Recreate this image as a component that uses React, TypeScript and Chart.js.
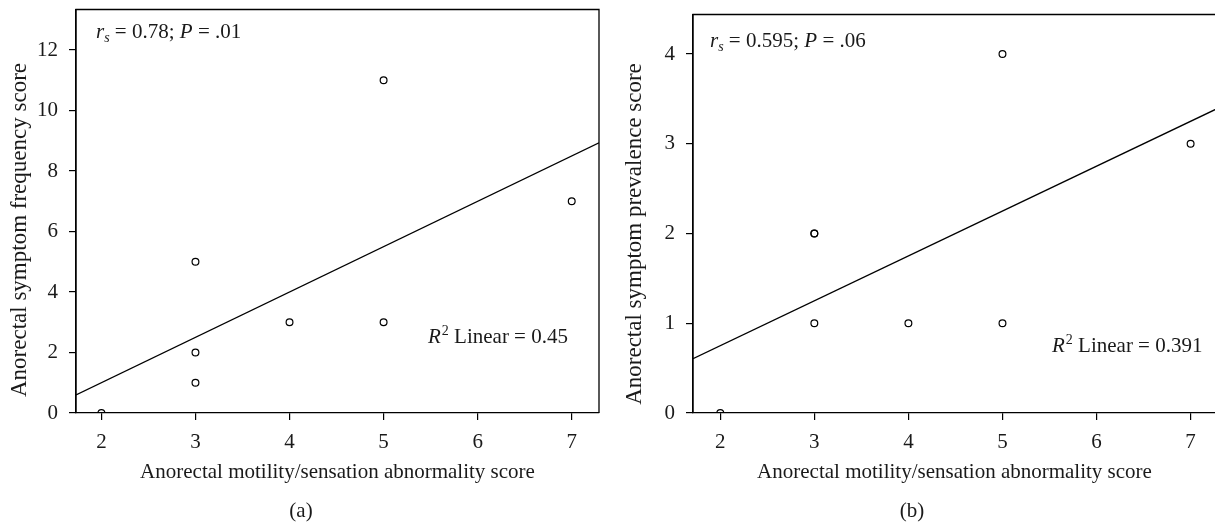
import React, { useEffect, useRef } from "react";
import { Chart, registerables } from "chart.js";

Chart.register(...registerables);

// ---------- data ----------
const abnormalityScore = [2, 3, 3, 3, 4, 5, 5, 7];
const frequencyScore = [0, 1, 2, 5, 3, 3, 11, 7];
const prevalenceScore = [0, 1, 2, 2, 1, 1, 4, 3];

const xTickValues = [2, 3, 4, 5, 6, 7];
const yTicksFrequency = [0, 2, 4, 6, 8, 10, 12];
const yTicksPrevalence = [0, 1, 2, 3, 4];

const xAxisTitle = "Anorectal motility/sensation abnormality score";
const yAxisTitles = ["Anorectal symptom frequency score", "Anorectal symptom prevalence score"];
const panelLabels = ["(a)", "(b)"];
const spearmanR = ["0.78", "0.595"];
const pValues = [".01", ".06"];
const r2Linear = ["0.45", "0.391"];

// ---------- styling ----------
const FAM = '"Liberation Serif", "Times New Roman", serif';
const INK = "#1a1a1a";
const FS = 21;
const FS_YTITLE = 23;

function linearFit(xs: number[], ys: number[]) {
  const n = xs.length;
  const mx = xs.reduce((a, b) => a + b, 0) / n;
  const my = ys.reduce((a, b) => a + b, 0) / n;
  let sxy = 0, sxx = 0;
  for (let i = 0; i < n; i++) {
    sxy += (xs[i] - mx) * (ys[i] - my);
    sxx += (xs[i] - mx) * (xs[i] - mx);
  }
  const b = sxy / sxx;
  const a = my - b * mx;
  return (x: number) => a + b * x;
}

type PanelOpts = {
  ys: number[];
  yTicks: number[];
  yMax: number;
  xMin: number;
  xMax: number;
  idx: number;
  width: number;
  padTop: number;
  padRight: number;
  yAxisWidth: number;
  yTitleX: number;
  yTitleY: number;
  labelX: number;
  rsPos: [number, number];
  r2Pos: [number, number];
};

const decorPlugin = {
  id: "decor",
  afterDraw(chart: any, _args: any, o: any) {
    const ctx = chart.ctx;
    const ca = chart.chartArea;
    ctx.save();
    // frame
    ctx.strokeStyle = "#000";
    ctx.lineWidth = 1.3;
    ctx.beginPath();
    ctx.moveTo(ca.left, ca.bottom);
    ctx.lineTo(ca.left, ca.top);
    ctx.lineTo(ca.right, ca.top);
    ctx.lineTo(ca.right, ca.bottom);
    ctx.stroke();

    ctx.fillStyle = INK;
    ctx.textBaseline = "alphabetic";
    ctx.textAlign = "left";
    // r_s annotation
    {
      let [x, y] = o.rsPos;
      ctx.font = `italic ${FS}px ${FAM}`;
      ctx.fillText("r", x, y);
      x += ctx.measureText("r").width;
      ctx.font = `italic 14px ${FAM}`;
      ctx.fillText("s", x, y + 4);
      x += ctx.measureText("s").width;
      ctx.font = `${FS}px ${FAM}`;
      const t1 = " = " + o.rs + "; ";
      ctx.fillText(t1, x, y);
      x += ctx.measureText(t1).width;
      ctx.font = `italic ${FS}px ${FAM}`;
      ctx.fillText("P", x, y);
      x += ctx.measureText("P").width;
      ctx.font = `${FS}px ${FAM}`;
      ctx.fillText(" = " + o.p, x, y);
    }
    // R2 annotation
    {
      let [x, y] = o.r2Pos;
      ctx.font = `italic ${FS}px ${FAM}`;
      ctx.fillText("R", x, y);
      x += ctx.measureText("R").width + 1;
      ctx.font = `14px ${FAM}`;
      ctx.fillText("2", x, y - 8);
      x += ctx.measureText("2").width;
      ctx.font = `${FS}px ${FAM}`;
      ctx.fillText(" Linear = " + o.r2, x, y);
    }
    // y title
    ctx.save();
    ctx.translate(o.yTitleX, o.yTitleY);
    ctx.rotate(-Math.PI / 2);
    ctx.textAlign = "center";
    ctx.textBaseline = "middle";
    ctx.font = `${FS_YTITLE}px ${FAM}`;
    ctx.fillText(o.yTitle, 0, 0);
    ctx.restore();
    // panel label
    ctx.textAlign = "center";
    ctx.textBaseline = "middle";
    ctx.font = `${FS}px ${FAM}`;
    ctx.fillText(o.label, o.labelX, 511);
    ctx.restore();
  },
};

function Panel(p: PanelOpts) {
  const ref = useRef<HTMLCanvasElement | null>(null);
  useEffect(() => {
    if (!ref.current) return;
    const fit = linearFit(abnormalityScore, p.ys);
    const pts = abnormalityScore.map((x, i) => ({ x, y: p.ys[i] }));
    const chart = new Chart(ref.current, {
      type: "scatter",
      data: {
        datasets: [
          {
            type: "scatter",
            data: pts,
            pointStyle: "circle",
            pointRadius: 3.4,
            pointBorderWidth: 1.2,
            borderColor: "#000",
            backgroundColor: "rgba(0,0,0,0)",
            order: 1,
          } as any,
          {
            type: "line",
            data: [
              { x: p.xMin, y: fit(p.xMin) },
              { x: p.xMax, y: fit(p.xMax) },
            ],
            borderColor: "#000",
            borderWidth: 1.3,
            pointRadius: 0,
            fill: false,
            order: 2,
          } as any,
        ],
      },
      options: {
        animation: false,
        responsive: false,
        maintainAspectRatio: false,
        layout: { autoPadding: false, padding: { top: p.padTop, right: p.padRight, bottom: 0, left: 0 } },
        plugins: {
          legend: { display: false },
          tooltip: { enabled: false },
          decor: {
            rsPos: p.rsPos,
            r2Pos: p.r2Pos,
            rs: spearmanR[p.idx],
            p: pValues[p.idx],
            r2: r2Linear[p.idx],
            yTitle: yAxisTitles[p.idx],
            yTitleX: p.yTitleX,
            yTitleY: p.yTitleY,
            label: panelLabels[p.idx],
            labelX: p.labelX,
          },
        } as any,
        scales: {
          x: {
            type: "linear",
            position: "bottom",
            min: p.xMin,
            max: p.xMax,
            afterFit: (s: any) => {
              s.height = 110;
              s.paddingLeft = 0;
              s.paddingRight = 0;
            },
            afterBuildTicks: (s: any) => {
              s.ticks = xTickValues.map((v) => ({ value: v }));
            },
            ticks: { color: INK, font: { family: FAM, size: FS }, padding: 10, maxRotation: 0 },
            grid: { display: true, drawOnChartArea: false, drawTicks: true, tickLength: 7, color: "#000", lineWidth: 1.2 },
            border: { display: true, color: "#000", width: 1.3 },
            title: {
              display: true,
              text: xAxisTitle,
              color: INK,
              font: { family: FAM, size: FS },
              padding: { top: 0, bottom: 38 },
            },
          },
          y: {
            type: "linear",
            position: "left",
            min: 0,
            max: p.yMax,
            afterFit: (s: any) => {
              s.width = p.yAxisWidth;
              s.paddingTop = 0;
              s.paddingBottom = 0;
            },
            afterBuildTicks: (s: any) => {
              s.ticks = p.yTicks.map((v) => ({ value: v }));
            },
            ticks: { color: INK, font: { family: FAM, size: FS }, padding: 11 },
            grid: { display: true, drawOnChartArea: false, drawTicks: true, tickLength: 7, color: "#000", lineWidth: 1.2 },
            border: { display: true, color: "#000", width: 1.3 },
          },
        },
      } as any,
      plugins: [decorPlugin as any],
    });
    return () => chart.destroy();
  }, []);
  return <canvas ref={ref} width={p.width} height={523} style={{ display: "block", width: p.width, height: 523 }} />;
}

export default function App() {
  return (
    <div
      style={{
        position: "absolute",
        left: 0,
        top: 0,
        width: 1215,
        height: 523,
        overflow: "hidden",
        background: "#fff",
        display: "flex",
      }}
    >
      <div style={{ width: 607, flex: "none" }}>
        <Panel
          idx={0}
          ys={frequencyScore}
          yTicks={yTicksFrequency}
          yMax={13.34}
          xMin={1.73}
          xMax={7.29}
          width={607}
          padTop={9.5}
          padRight={8}
          yAxisWidth={76}
          yTitleX={20}
          yTitleY={230}
          labelX={301}
          rsPos={[96, 37.5]}
          r2Pos={[428, 342.7]}
        />
      </div>
      <div style={{ width: 609, flex: "none" }}>
        <Panel
          idx={1}
          ys={prevalenceScore}
          yTicks={yTicksPrevalence}
          yMax={4.44}
          xMin={1.71}
          xMax={7.27}
          width={609}
          padTop={14.5}
          padRight={0}
          yAxisWidth={86}
          yTitleX={28}
          yTitleY={234}
          labelX={305}
          rsPos={[103, 46.7]}
          r2Pos={[445, 352.3]}
        />
      </div>
    </div>
  );
}
